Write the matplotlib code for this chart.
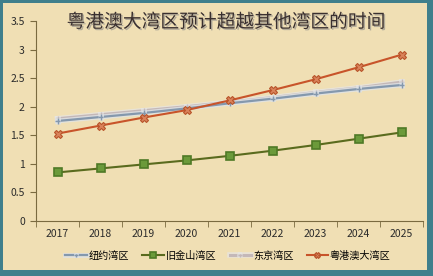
import matplotlib.pyplot as plt
import matplotlib.patches as mpatches
import matplotlib.patheffects as pe

plt.rcParams['font.family'] = ['Noto Sans CJK SC', 'DejaVu Sans']

years = ['2017', '2018', '2019', '2020', '2021', '2022', '2023', '2024', '2025']
newyork = [1.75, 1.82, 1.89, 1.97, 2.06, 2.14, 2.23, 2.31, 2.38]
sanfran = [0.85, 0.92, 0.99, 1.06, 1.14, 1.23, 1.33, 1.44, 1.55]
tokyo = [1.79, 1.86, 1.93, 2.00, 2.08, 2.16, 2.25, 2.33, 2.43]
gba = [1.53, 1.67, 1.81, 1.94, 2.11, 2.29, 2.48, 2.69, 2.91]
names = ['纽约湾区', '旧金山湾区', '东京湾区', '粤港澳大湾区']
title = '粤港澳大湾区预计超越其他湾区的时间'

fig = plt.figure(figsize=(4.33, 2.76), dpi=100, facecolor='#3f7f8c')
# parchment panel
fig.add_artist(mpatches.Rectangle((3 / 433, 6 / 276), 424 / 433, 267 / 276,
                                  transform=fig.transFigure, facecolor='#f0dfb4',
                                  edgecolor='none', zorder=-10))

ax = fig.add_axes([36 / 433, 1 - 221 / 276, 387 / 433, 200 / 276])
ax.set_facecolor('none')
ax.set_zorder(1)
x = range(len(years))

glow = [pe.Stroke(linewidth=3.5, foreground='#dfe3e6', alpha=0.8), pe.Normal()]
ax.plot(x, tokyo, color='#c4b8b8', lw=2.2, marker='+', ms=4,
        path_effects=[pe.Stroke(linewidth=4, foreground='#e6e6e6', alpha=0.7), pe.Normal()],
        label=names[2], zorder=2)
ax.plot(x, newyork, color='#8498ad', lw=1.6, marker='+', ms=4, path_effects=glow,
        label=names[0], zorder=3)
ax.plot(x, sanfran, color='#5a6b1e', lw=1.5, marker='s', ms=6,
        mfc='#6b9a3a', mec='#4f7a26', mew=1.2, label=names[1], zorder=4)
ax.plot(x, gba, color='#c8542a', lw=1.5, marker='X', ms=6,
        mfc='#d9825a', mec='#b8542a', mew=0.8, label=names[3], zorder=5)

ax.set_ylim(0, 3.5)
ax.set_xlim(-0.5, len(years) - 0.5)
ax.set_yticks([0, 0.5, 1, 1.5, 2, 2.5, 3, 3.5])
ax.set_yticklabels(['0', '0.5', '1', '1.5', '2', '2.5', '3', '3.5'])
ax.set_xticks(list(x))
ax.set_xticklabels(years)
ax.set_xticks([i - 0.5 for i in range(len(years) + 1)], minor=True)
ax.tick_params(axis='x', which='major', length=0, pad=6, labelsize=7.5, colors='#2b2b2b')
ax.tick_params(axis='x', which='minor', length=4, color='#7a6a40')
ax.tick_params(axis='y', length=4, color='#7a6a40', labelsize=7.5, labelcolor='#2b2b2b', pad=4)
for lbl in ax.get_xticklabels():
    lbl.set_fontweight('medium')
for s in ['top', 'right']:
    ax.spines[s].set_visible(False)
ax.spines['left'].set_color('#7a6a40')
ax.spines['bottom'].set_color('#7a6a40')

handles, labels = ax.get_legend_handles_labels()
order = [1, 2, 0, 3]
ax.legend([handles[i] for i in order], [labels[i] for i in order],
          loc='center', bbox_to_anchor=(228 / 433, 1 - 256 / 276),
          bbox_transform=fig.transFigure, ncol=4, frameon=False,
          fontsize=7.3, handlelength=2.1, handletextpad=0.2, columnspacing=1.3,
          markerscale=0.7)

fig.text(226 / 433, 1 - 22 / 276, title, ha='center', va='center', fontsize=13.5,
         color='#3a3030', fontweight='medium',
         path_effects=[pe.withSimplePatchShadow(offset=(1, -1), shadow_rgbFace='#888888', alpha=0.6)])

fig.savefig('out.png', dpi=100, facecolor=fig.get_facecolor())
